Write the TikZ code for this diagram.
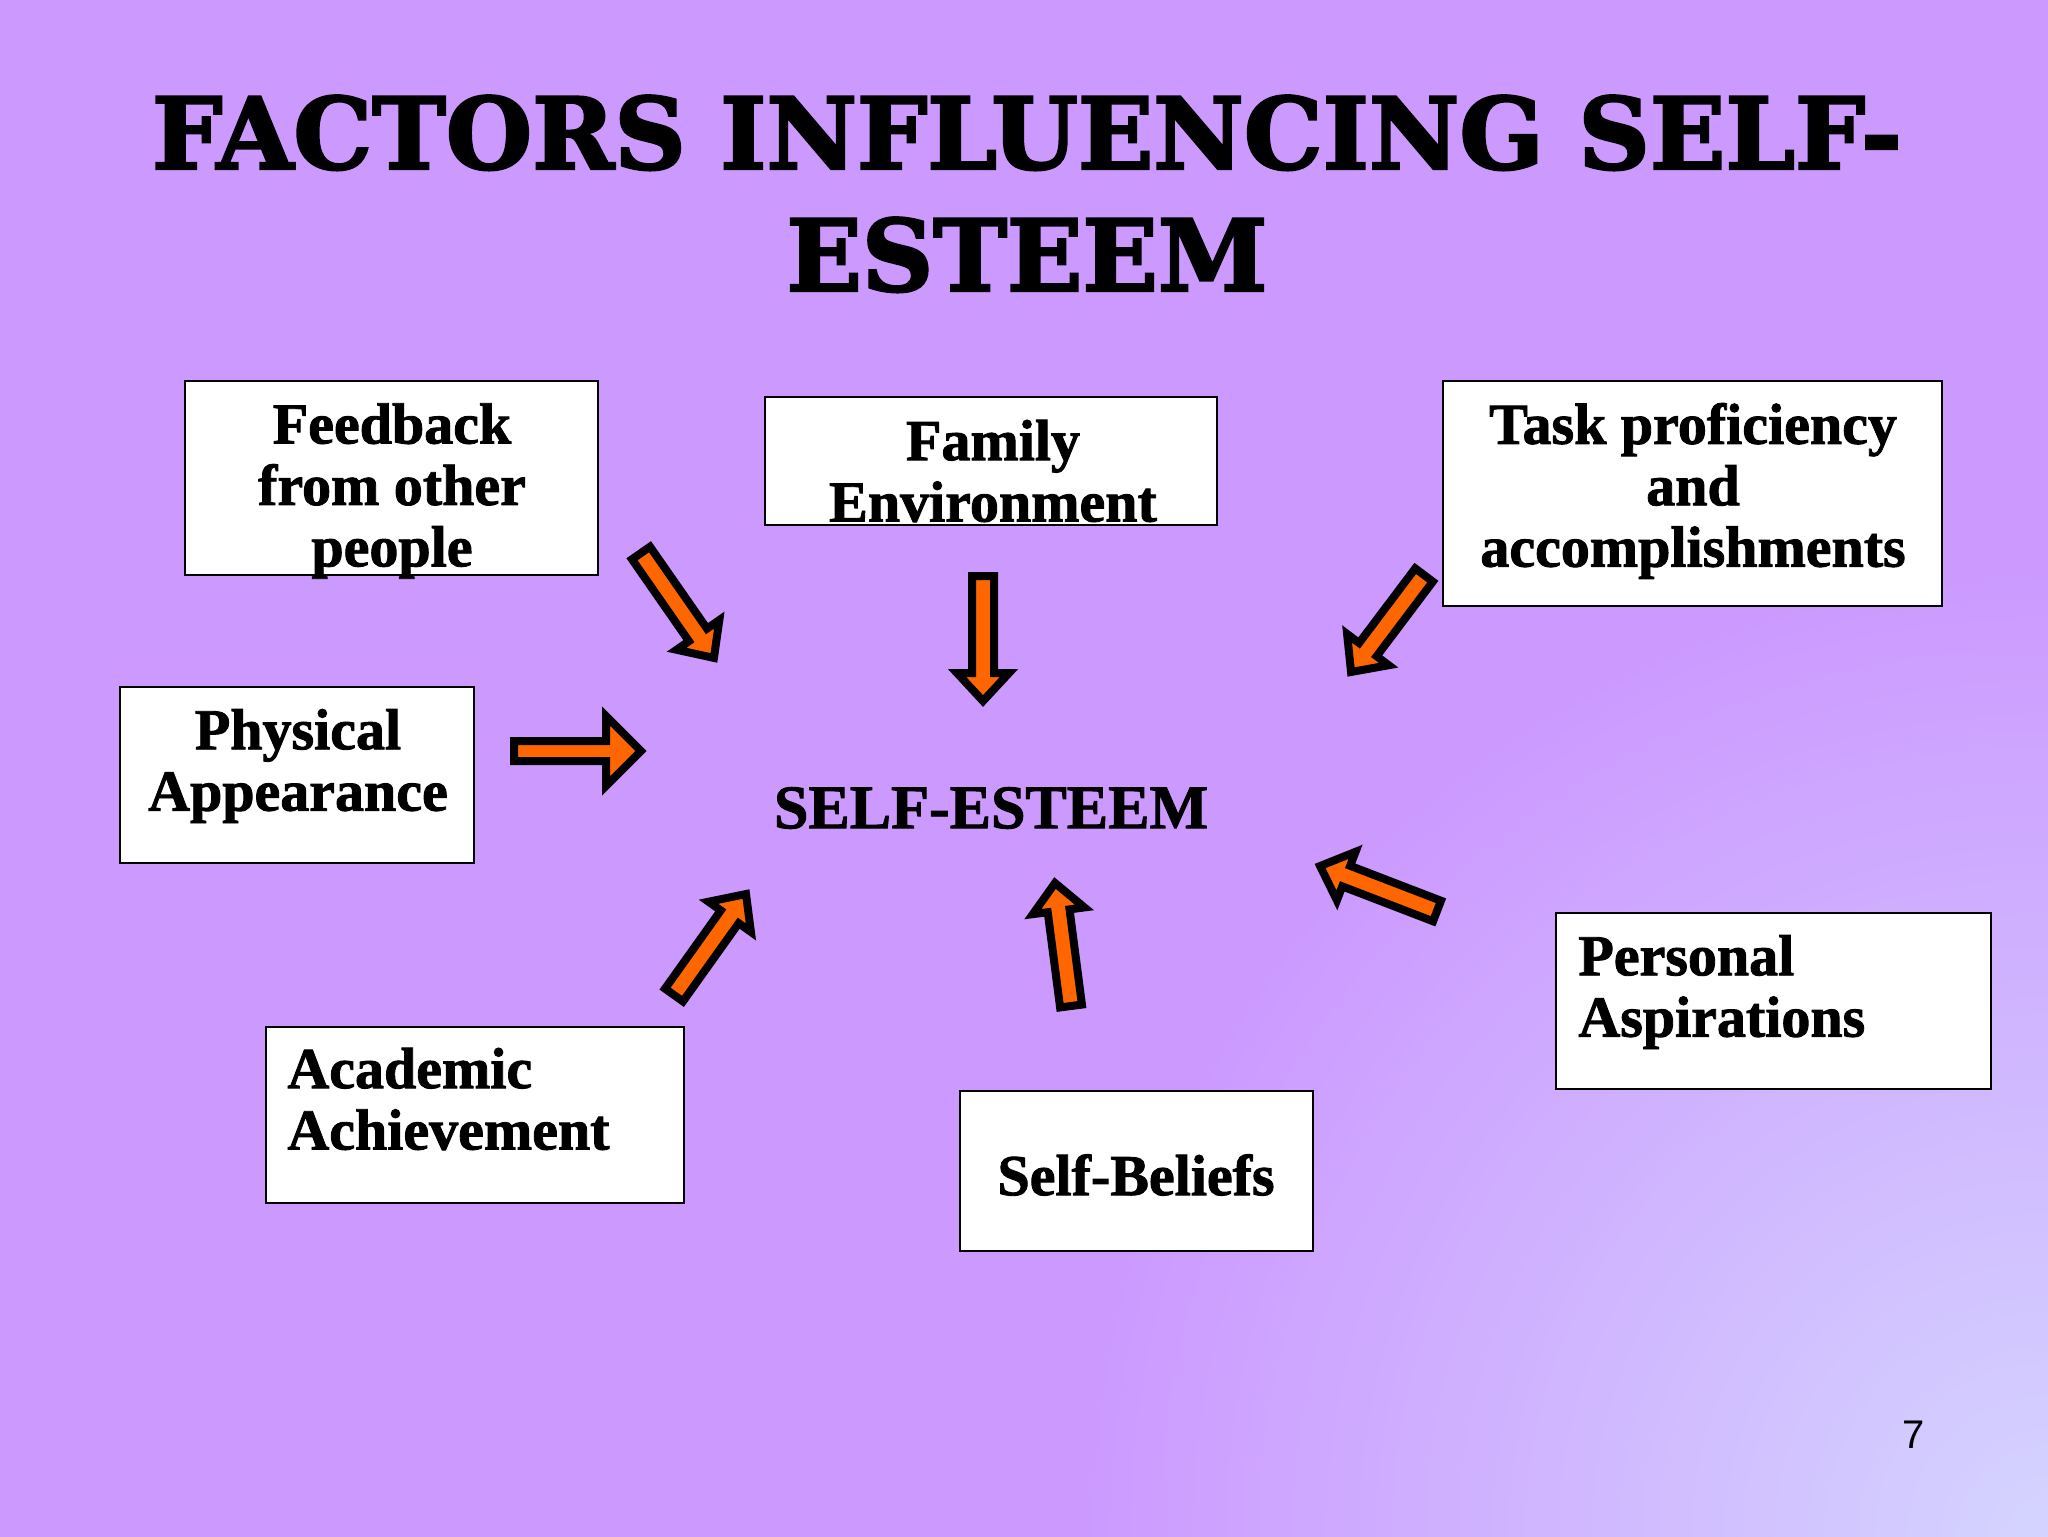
\documentclass[tikz,border=0pt]{standalone}
\usepackage{fontspec}
\setmainfont{Liberation Serif}
\newfontfamily\titlefont[BoldFeatures={FakeBold=2.5}]{DejaVu Serif}
\newfontfamily\boxfont[BoldFeatures={FakeBold=1.5}]{Liberation Serif}
\newfontfamily\numfont{Liberation Sans}
\usetikzlibrary{calc}
\definecolor{bgpurple}{RGB}{204,153,255}
\definecolor{bglight}{RGB}{212,212,255}
\definecolor{arroworange}{RGB}{255,102,0}
\tikzset{
  factorbox/.style={draw=black, line width=1pt, fill=white, inner sep=0pt},
  boxtext/.style={font=\boxfont\bfseries\fontsize{29}{30.7}\selectfont, inner sep=0pt, align=center},
  boxtextleft/.style={boxtext, align=left, anchor=west},
  titletext/.style={font=\titlefont\bfseries\fontsize{49.5}{61}\selectfont, inner sep=0pt, align=center, anchor=north},
  centertext/.style={font=\boxfont\bfseries\fontsize{31}{33}\selectfont, inner sep=0pt},
  pagenum/.style={font=\numfont\fontsize{20}{24}\selectfont, inner sep=0pt},
  barrow/.style={fill=arroworange, draw=black, line width=4pt, line join=miter, miter limit=10}
}
\newcommand\blockarrow[5]{%
  \path let \p1=(#1), \p2=(#2) in \pgfextra{\xdef\badx{\x2-\x1}\xdef\bady{\y2-\y1}};
  \pgfmathsetmacro\baang{atan2(\bady,\badx)}%
  \pgfmathsetmacro\balen{veclen(\badx,\bady)}%
  \pgfmathsetmacro\babase{\balen-#5}%
  \begin{scope}[shift={(#1)}, rotate=\baang]
    \draw[barrow] (0pt,-#3pt) -- (\babase pt,-#3pt) -- (\babase pt,-#4pt) -- (\balen pt,0pt) -- (\babase pt,#4pt) -- (\babase pt,#3pt) -- (0pt,#3pt) -- cycle;
  \end{scope}}
\begin{document}
\begin{tikzpicture}[x=0.5pt,y=-0.5pt]
\useasboundingbox (0,0) rectangle (2048,1536);
\fill[bgpurple] (-10,-10) rectangle (2058,1546);
\begin{scope}
  \clip (-10,-10) rectangle (2058,1546);
  \shade[inner color=bglight, outer color=bgpurple] (2048,1536) circle [radius=980];
\end{scope}

% title
\node[titletext] (title) at (1027,95) {FACTORS INFLUENCING SELF-\\ESTEEM};

% boxes
\node[factorbox, minimum width=206.5pt, minimum height=97pt] (fb) at (391.5,478) {};
\node[boxtext] (fbt) at (392,491) {Feedback\\from other\\people};
\node[factorbox, minimum width=226pt, minimum height=64pt] (fam) at (991,461) {};
\node[boxtext] (famt) at (993,471) {Family\\Environment};
\node[factorbox, minimum width=249.5pt, minimum height=112.5pt] (task) at (1692.5,493.5) {};
\node[boxtext] (taskt) at (1693,491) {Task proficiency\\and\\accomplishments};
\node[factorbox, minimum width=177pt, minimum height=88pt] (phys) at (297,775) {};
\node[boxtext] (physt) at (298,766) {Physical\\Appearance};
\node[factorbox, minimum width=209pt, minimum height=88pt] (acad) at (475,1115) {};
\node[boxtextleft] (acadt) at (287,1099) {Academic\\Achievement};
\node[factorbox, minimum width=176.5pt, minimum height=80pt] (selfb) at (1136.5,1171) {};
\node[boxtext] (selfbt) at (1136,1175) {Self-Beliefs};
\node[factorbox, minimum width=217.5pt, minimum height=88pt] (pers) at (1773.5,1001) {};
\node[boxtextleft] (perst) at (1578,992) {Personal\\Aspirations};

% centre
\node[centertext] (se) at (991,808) {SELF-ESTEEM};

% arrow ends
\coordinate (a1s) at (641,553); \coordinate (a1e) at (714,658);
\coordinate (a2s) at (983,576); \coordinate (a2e) at (983,701);
\coordinate (a3s) at (1424,575); \coordinate (a3e) at (1351,672);
\coordinate (a4s) at (514,751); \coordinate (a4e) at (641,751);
\coordinate (a5s) at (674,995); \coordinate (a5e) at (746,894);
\coordinate (a6s) at (1071,1006); \coordinate (a6e) at (1055,883);
\coordinate (a7s) at (1437,911); \coordinate (a7e) at (1320,866);

\blockarrow{a1s}{a1e}{5.5}{13}{14}
\blockarrow{a2s}{a2e}{5.5}{13}{14}
\blockarrow{a3s}{a3e}{5.5}{13}{14}
\blockarrow{a4s}{a4e}{5}{17.5}{17.5}
\blockarrow{a5s}{a5e}{5.5}{13}{14}
\blockarrow{a6s}{a6e}{5.5}{13}{14}
\blockarrow{a7s}{a7e}{5.5}{13}{14}

% page number
\node[pagenum] (pn) at (1914,1435) {7};
\end{tikzpicture}
\end{document}
